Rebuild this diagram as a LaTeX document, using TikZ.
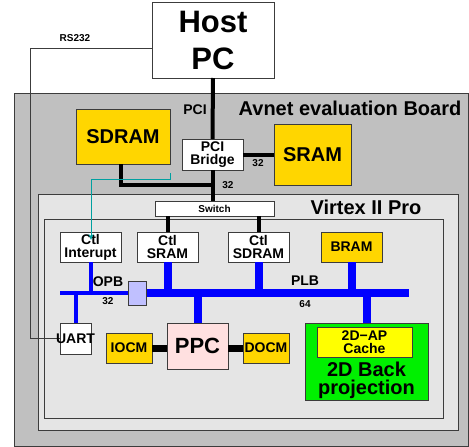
\documentclass[tikz,border=0pt]{standalone}
\usepackage{fontspec}
\setmainfont{Liberation Sans}
\usetikzlibrary{arrows.meta}
\definecolor{boardgray}{RGB}{192,192,192}
\definecolor{chipgray}{RGB}{229,229,229}
\definecolor{edgegray}{RGB}{60,60,60}
\definecolor{gold}{RGB}{255,214,0}
\definecolor{brightgreen}{RGB}{0,240,0}
\definecolor{cacheyellow}{RGB}{255,255,0}
\definecolor{ppcpink}{RGB}{255,224,224}
\definecolor{lavender}{RGB}{192,192,255}
\definecolor{tealline}{RGB}{0,160,160}
\tikzset{
  frame/.style={draw=edgegray, line width=0.9pt, inner sep=0pt, outer sep=0pt},
  blk/.style={frame, align=center, font=\bfseries\fontsize{14}{13}\selectfont},
  wbox/.style={blk, fill=white},
  ybox/.style={blk, fill=gold},
  lbl/.style={font=\bfseries\fontsize{14}{14}\selectfont, inner sep=0pt},
  small/.style={font=\bfseries\fontsize{10}{10}\selectfont, inner sep=0pt},
  big/.style={font=\bfseries\fontsize{20}{20}\selectfont, inner sep=0pt},
  blackbus/.style={line width=4pt, black},
  fatbus/.style={line width=7pt, black},
  opb/.style={line width=4pt, blue},
  plb/.style={line width=8pt, blue},
  wire/.style={line width=0.9pt, edgegray},
}
\begin{document}
\begin{tikzpicture}[x=1pt,y=-1pt]
\useasboundingbox (0,0) rectangle (469,447);
% frames
\node[frame, fill=boardgray, minimum width=454pt, minimum height=353pt] (board) at (241,269.5) {};
\node[frame, fill=chipgray, minimum width=420pt, minimum height=236pt] (virtex) at (248,312) {};
\node[frame, fill=chipgray, minimum width=399pt, minimum height=199pt] (inner) at (243.5,318.5) {};
\node[big, anchor=center] (boardlbl) at (350,108) {Avnet evaluation Board};
\node[big, anchor=center] (virtexlbl) at (366,207) {Virtex II Pro};

% host
\node[frame, fill=white, align=center, minimum width=122pt, minimum height=76pt,
      font=\bfseries\fontsize{31}{37}\selectfont] (host) at (213,40) {Host\\PC};

% board-level parts
\node[ybox, minimum width=94pt, minimum height=55pt, font=\bfseries\fontsize{20}{20}\selectfont] (sdram) at (123,136.5) {SDRAM};
\node[wbox, minimum width=61pt, minimum height=31pt] (bridge) at (212.5,154.5) {PCI\\Bridge};
\node[ybox, minimum width=77pt, minimum height=61pt, font=\bfseries\fontsize{20}{20}\selectfont] (sram) at (312.5,154.5) {SRAM};
\node[wbox, minimum width=119pt, minimum height=15pt, font=\bfseries\fontsize{10}{10}\selectfont] (switch) at (214.5,208.5) {Switch};

% controllers
\node[wbox, minimum width=61pt, minimum height=30pt] (ctlint) at (90.5,247) {Ctl\\Interupt};
\node[wbox, minimum width=61pt, minimum height=30pt] (ctlsram) at (167.5,247) {Ctl\\SRAM};
\node[wbox, minimum width=61pt, minimum height=30pt] (ctlsdram) at (258.5,247) {Ctl\\SDRAM};
\node[ybox, minimum width=61pt, minimum height=30pt] (bram) at (351.5,247) {BRAM};

% bus bridge
\node[frame, fill=lavender, minimum width=18pt, minimum height=24pt] (opbplb) at (137,293) {};
\coordinate (opbL) at (60,293);
\coordinate (plbR) at (409,293);

% lower row
\node[wbox, minimum width=31pt, minimum height=31pt] (uart) at (75.5,338.5) {};
\node[ybox, minimum width=46pt, minimum height=30pt] (iocm) at (129,348) {IOCM};
\node[blk, fill=ppcpink, minimum width=61pt, minimum height=46pt, font=\bfseries\fontsize{22}{22}\selectfont] (ppc) at (197.5,346) {PPC};
\node[ybox, minimum width=46pt, minimum height=30pt] (docm) at (266,348) {DOCM};
\node[frame, fill=brightgreen, minimum width=123pt, minimum height=77pt] (bp) at (366.5,361.5) {};
\node[blk, fill=cacheyellow, minimum width=95pt, minimum height=30pt] (cache) at (364.5,342) {2D\textminus AP\\Cache};
\node[align=center, inner sep=0pt, font=\bfseries\fontsize{20}{17.5}\selectfont] (bplbl) at (366.5,380.5) {2D Back\\projection};

% black connections
\coordinate (j1) at (213,185);
\draw[blackbus] (host.south) -- (bridge.north);
\draw[blackbus] (bridge.south) -- (bridge.south |- switch.north);
\draw[blackbus] ([xshift=-2pt]sdram.south) -- ([xshift=-2pt]sdram.south |- j1) -- (j1);
\draw[blackbus] (bridge.east) -- (sram.west);
\draw[blackbus] (ctlsram.north |- switch.south) -- (ctlsram.north);
\draw[blackbus] (ctlsdram.north |- switch.south) -- (ctlsdram.north);
\draw[fatbus] (iocm.east) -- (iocm.east -| ppc.west);
\draw[fatbus] (docm.west -| ppc.east) -- (docm.west);

% buses
\draw[opb] (opbL) -- (opbplb.west);
\draw[plb] (opbplb.east) -- (plbR);
\draw[opb] (ctlint.south) -- (ctlint.south |- opbL);
\draw[opb] (uart.north) -- (uart.north |- opbL);
\draw[plb] (ctlsram.south) -- (ctlsram.south |- plbR);
\draw[plb] (ctlsdram.south) -- (ctlsdram.south |- plbR);
\draw[plb] (bram.south) -- (bram.south |- plbR);
\draw[plb] (ppc.north) -- (ppc.north |- plbR);
\draw[plb] (bp.north) -- (bp.north |- plbR);
\node[frame, fill=lavender, minimum width=18pt, minimum height=24pt] at (opbplb) {};

% RS232 wire
\coordinate (r1) at (30,48);
\draw[wire] (host.west |- r1) -- (r1) -- (r1 |- uart.west) -- (uart.west);
\node[lbl] (uartlbl) at (uart) {UART};

% teal interrupt wire
\coordinate (t0) at (170,173);
\coordinate (t1) at (170,179);
\coordinate (t2) at (91,179);
\coordinate (t3) at (91,240);
\draw[tealline, line width=0.9pt, -{Stealth[length=6pt,width=5pt]}] (t0) -- (t1) -- (t2) -- (t3);

% labels
\node[lbl] (pcilbl) at (195,110) {PCI};
\node[small] (n32a) at (258,163) {32};
\node[small] (n32b) at (228,185) {32};
\node[lbl] (opblbl) at (108,282) {OPB};
\node[small] (n32c) at (108,301) {32};
\node[lbl] (plblbl) at (305,281) {PLB};
\node[small] (n64) at (305,304) {64};
\node[small] (rslbl) at (75,38) {RS232};
\end{tikzpicture}
\end{document}
